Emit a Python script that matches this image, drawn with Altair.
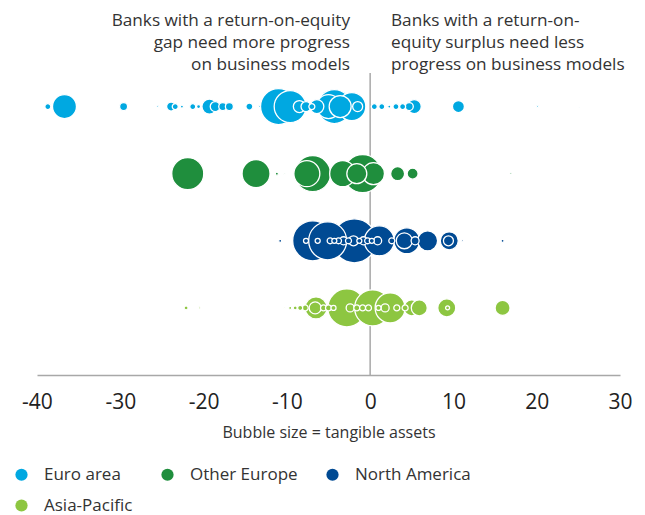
import altair as alt
import pandas as pd

regions = ["Euro area", "Other Europe", "North America", "Asia-Pacific"]
colors = ["#00A8E1", "#1F8E3D", "#004A93", "#8DC641"]
row_pos = [4, 3, 2, 1]
x_ticks = [-40, -30, -20, -10, 0, 10, 20, 30]

# return-on-equity gap (x) and tangible assets (bubble size) per region
euro_gap = [-38.7, -36.7, -29.6, -25.5, -23.9, -23.4, -22.6, -21.3, -20.6, -19.3, -18.6, -17.7,
            -16.9, -14.5, -13.3, -11.0, -9.6, -8.5, -7.7, -7.0, -6.4, -5.0, -4.3, -3.6, -2.2,
            -1.5, 0.5, 1.4, 2.3, 3.1, 3.9, 4.7, 5.3, 10.6, 20.1, 25.1]
euro_assets = [43, 690, 77, 5, 97, 43, 11, 43, 19, 270, 120, 77,
               77, 59, 5, 1555, 1230, 173, 120, 43, 235, 690, 1387, 580, 940,
               120, 43, 43, 11, 43, 43, 77, 235, 173, 5, 2]

oeur_gap = [-21.9, -13.7, -11.2, -10.3, -6.9, -7.6, -3.3, -0.9, -1.6, 0.4, 3.3, 5.1, 16.9]
oeur_assets = [1230, 940, 11, 3, 1555, 810, 810, 1733, 480, 580, 235, 145, 5]

nam_gap = [-10.8, -7.7, -6.9, -6.3, -5.1, -4.8, -4.3, -3.8, -1.9, -3.2, -2.6, -2.0, -1.3,
           -0.8, -0.3, 0.2, 1.1, 0.9, 2.6, 4.4, 4.1, 5.4, 6.9, 9.5, 9.4, 11.1, 15.9]
nam_assets = [11, 30, 1920, 30, 1733, 43, 30, 43, 2323, 77, 43, 120, 30,
              77, 43, 30, 1080, 77, 43, 810, 307, 77, 480, 390, 120, 5, 11]

apac_gap = [-22.1, -20.5, -10.3, -9.6, -9.0, -8.4, -7.8, -6.5, -6.6, -5.6, -5.0, -4.4, -2.8,
            -2.4, -1.6, -0.9, 0.3, -0.2, 1.0, 2.4, 1.8, 3.2, 4.2, 5.0, 5.9, 9.2, 9.3, 15.9]
apac_assets = [19, 5, 3, 11, 19, 30, 43, 580, 173, 43, 43, 30, 1733,
               77, 43, 43, 1555, 43, 30, 1080, 77, 43, 43, 307, 307, 390, 19, 270]

title_left = ["Banks with a return-on-equity", "gap need more progress", "on business models"]
title_right = ["Banks with a return-on-", "equity surplus need less", "progress on business models"]

series = [(euro_gap, euro_assets), (oeur_gap, oeur_assets), (nam_gap, nam_assets), (apac_gap, apac_assets)]
rows = []
for reg, pos, (gx, ga) in zip(regions, row_pos, series):
    for g, a in zip(gx, ga):
        rows.append({"region": reg, "row": pos, "gap": g, "assets": a})
df = pd.DataFrame(rows)

W, H = 583, 302
FONT = "Open Sans"

xscale = alt.Scale(domain=[-40, 30], nice=False, zero=False)
yscale = alt.Scale(domain=[0, 4.5], nice=False, zero=False)

rule = alt.Chart(pd.DataFrame({"gap": [0]})).mark_rule(color="#A8A8A8", strokeWidth=1.5).encode(
    x=alt.X("gap:Q", scale=xscale,
            axis=alt.Axis(values=x_ticks, title="Bubble size = tangible assets",
                          labelExpr="'' + datum.value", labelFlush=False)),
    y=alt.value(0), y2=alt.value(H))

bubbles = alt.Chart(df).mark_circle(opacity=1, stroke="white", strokeWidth=1.3).encode(
    x=alt.X("gap:Q", scale=xscale),
    y=alt.Y("row:Q", scale=yscale, axis=None),
    size=alt.Size("assets:Q", scale=alt.Scale(type="linear", domain=[0, 3000], range=[0, 2500]), legend=None),
    color=alt.Color("region:N", scale=alt.Scale(domain=regions, range=colors),
                    legend=alt.Legend(orient="none", legendX=-24, legendY=393, direction="horizontal",
                                      columns=3, title=None, symbolType="circle", symbolSize=150,
                                      symbolStrokeWidth=0, symbolOpacity=1, labelFontSize=17,
                                      labelColor="#333333", labelOffset=14, columnPadding=26,
                                      rowPadding=13, labelLimit=300, padding=0, labelFont=FONT)),
    order=alt.Order("assets:Q", sort="descending"),
)

one = pd.DataFrame({"k": [0]})
tl = alt.Chart(one).mark_text(text=title_left, align="right", baseline="alphabetic", fontSize=17.2,
                              lineHeight=22, color="#333333", font=FONT).encode(
    x=alt.value(313), y=alt.value(-47))
tr = alt.Chart(one).mark_text(text=title_right, align="left", baseline="alphabetic", fontSize=17.2,
                              lineHeight=22, color="#333333", font=FONT).encode(
    x=alt.value(354), y=alt.value(-47))

chart = alt.layer(rule, bubbles, tl, tr).properties(
    width=W, height=H,
    autosize=alt.AutoSizeParams(type="none"),
    padding={"left": 29, "top": 65, "right": 17, "bottom": 140},
).configure_view(stroke=None).configure_axis(
    domainColor="#A8A8A8", domainWidth=1.5, ticks=False, grid=False,
    labelFontSize=21, labelColor="#222222", labelPadding=16, labelFont=FONT,
    titleFontSize=16, titleFontWeight="normal", titleColor="#333333", titlePadding=12, titleFont=FONT,
).configure_text(font=FONT)

chart.save("out.html", embed_options={"renderer": "svg", "actions": False})
